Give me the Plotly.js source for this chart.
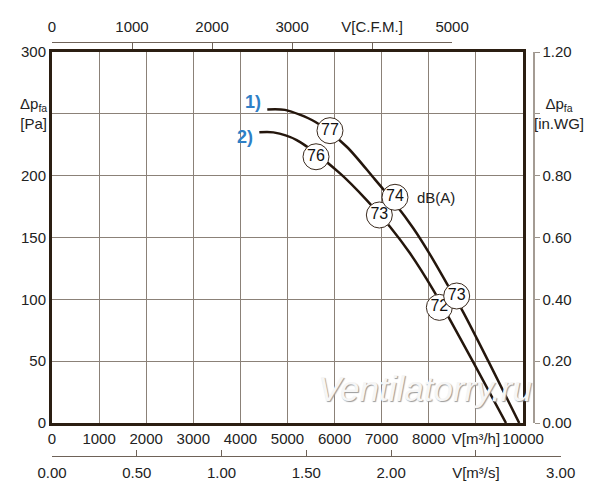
<!DOCTYPE html>
<html>
<head>
<meta charset="utf-8">
<script src="https://cdn.plot.ly/plotly-3.0.1.min.js"></script>
<style>html,body{margin:0;padding:0;background:#fff;}#chart{width:600px;height:500px;}</style>
</head>
<body>
<div id="chart"></div>
<script>
// ---- data ----
const flowTicks = [0, 1000, 2000, 3000, 4000, 5000, 6000, 7000, 8000, 9000, 10000];
const flowTickText = ['0', '1000', '2000', '3000', '4000', '5000', '6000', '7000', '8000', 'V[m³/h]', '10000'];
const paTicks = [0, 50, 100, 150, 200, 250, 300];
const paTickText = ['0', '50', '100', '150', '200', '', '300'];
const cfmTicks = [0, 1000, 2000, 3000, 4000, 5000];
const cfmTickText = ['0', '1000', '2000', '3000', 'V[C.F.M.]', '5000'];
const m3sTicks = [0, 0.5, 1.0, 1.5, 2.0, 2.5, 3.0];
const m3sTickText = ['0.00', '0.50', '1.00', '1.50', '2.00', 'V[m³/s]', '3.00'];
const inwgTicks = [0, 0.2, 0.4, 0.6, 0.8, 1.0, 1.2];
const inwgTickText = ['0.00', '0.20', '0.40', '0.60', '0.80', '', '1.20'];

const curve1X = [4571, 4947, 5584, 6257, 6822, 7282, 7671, 8011, 8380, 8733, 9264, 9920];
const curve1Y = [253.6, 253.2, 243.6, 223.4, 198.5, 177.5, 157.5, 137.2, 113, 89.5, 50, 0];
const curve2X = [4402, 4700, 5195, 6115, 6681, 7176, 7601, 8096, 8414, 8932, 9639];
const curve2Y = [235.1, 235, 228.8, 201.9, 180.3, 158.7, 137.2, 107.5, 86, 50, 0];

const noise1X = [5902, 7282, 8592];
const noise1Y = [236.4, 182.5, 102.7];
const noise1Lbl = ['77', '74', '73'];
const noise2X = [5605, 6950, 8224];
const noise2Y = [215.3, 168.2, 93.5];
const noise2Lbl = ['76', '73', '72'];

const curveNames = ['1)', '2)'];
const curveLabelX = [4268, 4098];
const curveLabelY = [259.6, 231.3];

// ---- unit conversions ----
const M3H_PER_CFM = 1.699;
const M3H_PER_M3S = 3600;
const PA_PER_INWG = 250;
const X_MAX = 10000;

// ---- layout geometry ----
const W = 600, H = 500;
const mL = 52, mR = 39, mT = 42, mB = 44;
const paperW = W - mL - mR, paperH = H - mT - mB;
const plotW = 471, plotTop = 52, plotBot = 423;
const dX = plotW / paperW;
const yDom = [(H - mB - plotBot) / paperH, (H - mB - plotTop) / paperH];
const rightAxisPos = (533 - mL) / paperW;

const FONT = 'Liberation Sans, Arial, sans-serif';
const DARK = '#24160c';
const FRAME = '#2b1e12';
const GRID = '#8b8178';
const AXC = '#6e6258';
const TXT = '#222222';

const ghost = {mode: 'lines', line: {color: 'rgba(0,0,0,0)', width: 0}, hoverinfo: 'skip', showlegend: false};

const traces = [
  {x: curve2X, y: curve2Y, mode: 'lines', line: {color: DARK, width: 2.5, shape: 'spline', smoothing: 0.8}, hoverinfo: 'skip', showlegend: false},
  {x: curve1X, y: curve1Y, mode: 'lines', line: {color: DARK, width: 2.5, shape: 'spline', smoothing: 0.8}, hoverinfo: 'skip', showlegend: false},
  {x: noise2X, y: noise2Y, text: noise2Lbl, mode: 'markers+text', textposition: 'middle center',
   textfont: {family: FONT, size: 16, color: '#111'},
   marker: {size: 26, color: '#ffffff', line: {color: '#3a2a1e', width: 1}}, hoverinfo: 'skip', showlegend: false},
  {x: noise1X, y: noise1Y, text: noise1Lbl, mode: 'markers+text', textposition: 'middle center',
   textfont: {family: FONT, size: 16, color: '#111'},
   marker: {size: 26, color: '#ffffff', line: {color: '#3a2a1e', width: 1}}, hoverinfo: 'skip', showlegend: false},
  // invisible companions so the secondary unit axes get drawn
  Object.assign({x: curve1X.map(v => v / M3H_PER_M3S), y: curve1Y, xaxis: 'x2', yaxis: 'y3'}, ghost),
  Object.assign({x: curve1X.map(v => v / M3H_PER_CFM), y: curve1Y, xaxis: 'x3', yaxis: 'y3'}, ghost),
  Object.assign({x: curve1X, y: curve1Y.map(v => v / PA_PER_INWG), xaxis: 'x', yaxis: 'y2'}, ghost)
];

const annotations = [
  {xref: 'paper', yref: 'y', x: 0, y: 250, xanchor: 'right', yanchor: 'middle', xshift: -3, showarrow: false,
   text: 'Δp<sub>fa</sub><br>[Pa]', align: 'center', font: {family: FONT, size: 15, color: TXT}},
  {xref: 'paper', yref: 'y', x: rightAxisPos, y: 250, xanchor: 'left', yanchor: 'middle', xshift: -1, showarrow: false,
   text: 'Δp<sub>fa</sub><br>[in.WG]', align: 'center', font: {family: FONT, size: 15, color: TXT}},
  {xref: 'x', yref: 'y', x: 7707, y: 182.7, xanchor: 'left', yanchor: 'middle', showarrow: false,
   text: 'dB(A)', font: {family: FONT, size: 15, color: TXT}},
  {xref: 'x', yref: 'y', x: 7919, y: 28.3, xanchor: 'center', yanchor: 'middle', showarrow: false,
   text: '<i>Ventilatorry.ru</i>', font: {family: FONT, size: 35, color: '#f6f6f6', shadow: '1px 1px 1px #9a9a9a'}}
];
curveNames.forEach((n, i) => annotations.push({
  xref: 'x', yref: 'y', x: curveLabelX[i], y: curveLabelY[i], xanchor: 'center', yanchor: 'middle', showarrow: false,
  text: '<b>' + n + '</b>', font: {family: FONT, size: 18, color: '#2f7fc6'}
}));

const layout = {
  width: W, height: H,
  margin: {l: mL, r: mR, t: mT, b: mB, pad: 0},
  paper_bgcolor: '#ffffff', plot_bgcolor: 'rgba(0,0,0,0)',
  showlegend: false,
  xaxis: {domain: [0, dX], range: [0, X_MAX], tickvals: flowTicks, ticktext: flowTickText,
    showgrid: true, gridcolor: GRID, gridwidth: 1, zeroline: false,
    showline: true, mirror: true, linecolor: FRAME, linewidth: 3, ticks: '',
    tickfont: {family: FONT, size: 15, color: TXT}, anchor: 'y', fixedrange: true},
  yaxis: {domain: yDom, range: [0, 300], tickvals: paTicks, ticktext: paTickText,
    showgrid: true, gridcolor: GRID, gridwidth: 1, zeroline: false,
    showline: true, mirror: true, linecolor: FRAME, linewidth: 3, ticks: '',
    tickfont: {family: FONT, size: 15, color: TXT}, anchor: 'x', fixedrange: true},
  xaxis2: {domain: [0, 1], range: [0, X_MAX / M3H_PER_M3S / dX], anchor: 'free', position: 0, side: 'bottom',
    tickvals: m3sTicks, ticktext: m3sTickText, ticks: 'inside', ticklen: 6, tickcolor: AXC, tickwidth: 1,
    ticklabelstandoff: 3,
    showline: true, linecolor: AXC, linewidth: 1, showgrid: false, zeroline: false,
    tickfont: {family: FONT, size: 15, color: TXT}, fixedrange: true},
  xaxis3: {domain: [0, dX * (5000 * M3H_PER_CFM) / X_MAX], range: [0, 5000], anchor: 'free', position: 1, side: 'top',
    tickvals: cfmTicks, ticktext: cfmTickText, ticks: 'inside', ticklen: 6, tickcolor: AXC, tickwidth: 1,
    ticklabelstandoff: 4,
    showline: true, linecolor: AXC, linewidth: 1, showgrid: false, zeroline: false,
    tickfont: {family: FONT, size: 15, color: TXT}, fixedrange: true},
  yaxis2: {domain: yDom, range: [0, 1.2], overlaying: 'y', anchor: 'free', position: rightAxisPos, side: 'right',
    tickvals: inwgTicks, ticktext: inwgTickText, ticks: 'outside', ticklen: 5, tickcolor: '#9a928a', tickwidth: 1,
    showline: true, linecolor: '#a49c94', linewidth: 1.5, showgrid: false, zeroline: false,
    tickfont: {family: FONT, size: 15, color: TXT}, fixedrange: true},
  yaxis3: {domain: yDom, range: [0, 300], visible: false, anchor: 'free', position: 0, fixedrange: true},
  annotations: annotations
};

Plotly.newPlot('chart', traces, layout, {staticPlot: true, displayModeBar: false});
</script>
</body>
</html>
